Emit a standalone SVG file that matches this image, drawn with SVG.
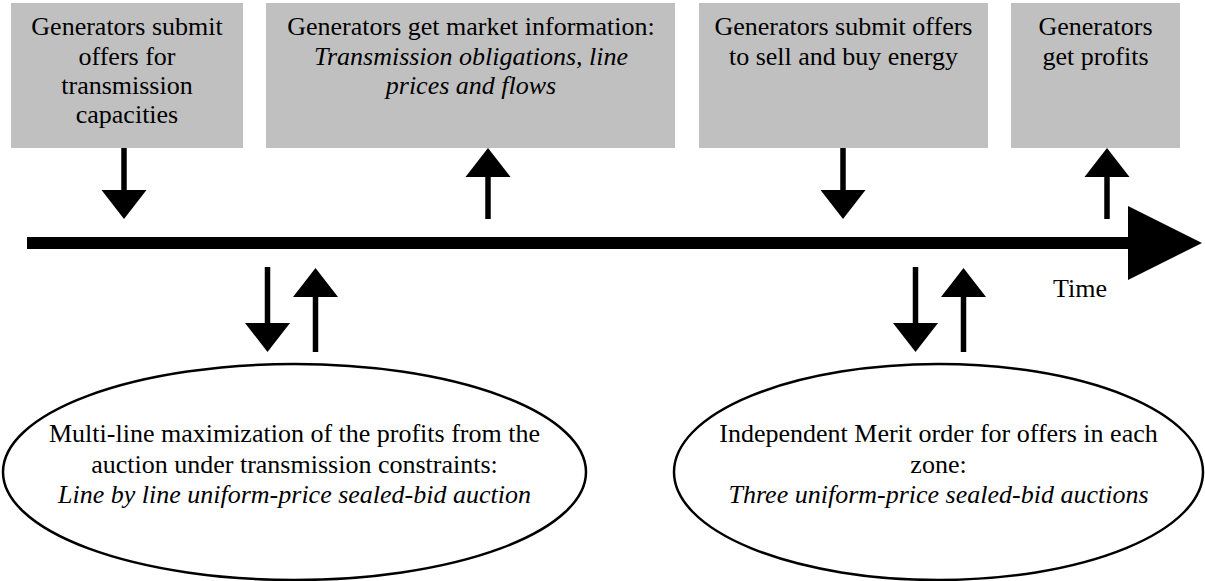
<svg xmlns="http://www.w3.org/2000/svg" width="1205" height="581" viewBox="0 0 1205 581">
<style>
.box{fill:#c0c0c0;stroke:none}
.ell{fill:#fff;stroke:#000;stroke-width:2.5}
.t{font-family:'Liberation Serif','Times New Roman',Times,'DejaVu Serif',serif;font-size:26px;fill:#000;text-anchor:middle}
.it{font-style:italic}
.shaft{stroke:#000;stroke-width:5.5;fill:none}
.head{fill:#000;stroke:none}
</style>
<rect width="1205" height="581" fill="#fff"/>
<g id="node-submit-transmission" class="t" font-family="Liberation Serif, serif">
<rect class="box" x="11" y="3" width="232" height="145"/>
<text x="127" y="35">Generators submit</text>
<text x="127" y="65">offers for</text>
<text x="127" y="94">transmission</text>
<text x="127" y="123">capacities</text>
</g>
<g id="node-market-info" class="t" font-family="Liberation Serif, serif">
<rect class="box" x="266" y="3" width="409" height="145"/>
<text x="471" y="35">Generators get market information:</text>
<text x="471" y="65" class="it">Transmission obligations, line</text>
<text x="471" y="94" class="it">prices and flows</text>
</g>
<g id="node-submit-energy" class="t" font-family="Liberation Serif, serif">
<rect class="box" x="699" y="3" width="289" height="145"/>
<text x="843.5" y="35">Generators submit offers</text>
<text x="843.5" y="65">to sell and buy energy</text>
</g>
<g id="node-profits" class="t" font-family="Liberation Serif, serif">
<rect class="box" x="1011" y="3" width="169" height="145"/>
<text x="1095.5" y="35">Generators</text>
<text x="1095.5" y="65">get profits</text>
</g>
<g id="node-timeline" class="t" font-family="Liberation Serif, serif">
<rect x="27" y="237" width="1103" height="12" fill="#000"/>
<polygon class="head" points="1128,206 1202,243 1128,280"/>
<text x="1080" y="297">Time</text>
</g>
<g id="node-transmission-auction" class="t" font-family="Liberation Serif, serif">
<ellipse class="ell" cx="294.5" cy="472" rx="291.5" ry="108"/>
<text x="294.5" y="442">Multi-line maximization of the profits from the</text>
<text x="294.5" y="473">auction under transmission constraints:</text>
<text x="294.5" y="503" class="it">Line by line uniform-price sealed-bid auction</text>
</g>
<g id="node-merit-order" class="t" font-family="Liberation Serif, serif">
<ellipse class="ell" cx="938.5" cy="472" rx="264.5" ry="108"/>
<text x="938.5" y="442">Independent Merit order for offers in each</text>
<text x="938.5" y="473">zone:</text>
<text x="938.5" y="503" class="it">Three uniform-price sealed-bid auctions</text>
</g>
<g id="connectors">
<line class="shaft" x1="124" y1="148" x2="124" y2="191"/>
<polygon class="head" points="101.5,190 146.5,190 124,219"/>
<line class="shaft" x1="488" y1="219" x2="488" y2="176"/>
<polygon class="head" points="465.5,177 510.5,177 488,148"/>
<line class="shaft" x1="843" y1="148" x2="843" y2="191"/>
<polygon class="head" points="820.5,190 865.5,190 843,219"/>
<line class="shaft" x1="1107" y1="219" x2="1107" y2="176"/>
<polygon class="head" points="1084.5,177 1129.5,177 1107,148"/>
<line class="shaft" x1="267.5" y1="267" x2="267.5" y2="324"/>
<polygon class="head" points="245,323 290,323 267.5,352"/>
<line class="shaft" x1="315.5" y1="352" x2="315.5" y2="296"/>
<polygon class="head" points="293,297 338,297 315.5,268"/>
<line class="shaft" x1="915.5" y1="267" x2="915.5" y2="324"/>
<polygon class="head" points="893,323 938,323 915.5,352"/>
<line class="shaft" x1="963.5" y1="352" x2="963.5" y2="296"/>
<polygon class="head" points="941,297 986,297 963.5,268"/>
</g>
</svg>
